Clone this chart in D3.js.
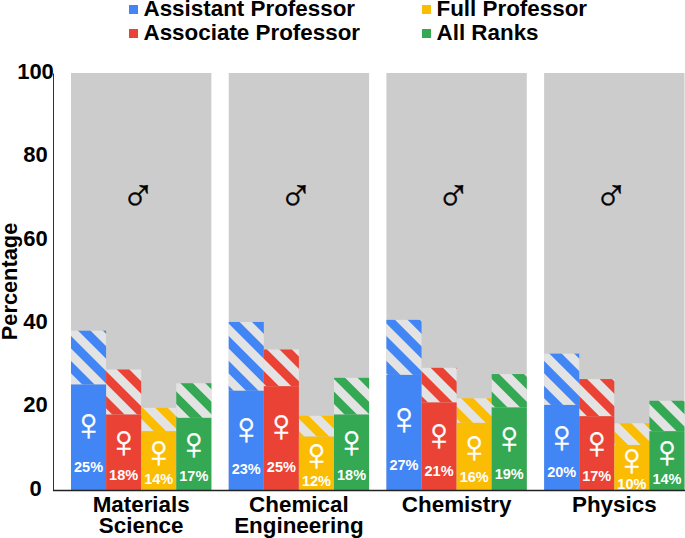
<!DOCTYPE html>
<html>
<head>
<meta charset="utf-8">
<script src="https://cdn.jsdelivr.net/npm/d3@7"></script>
<style>
html, body { margin: 0; padding: 0; background: #fff; }
svg { display: block; }
text { font-family: "Liberation Sans", Arial, sans-serif; }
</style>
</head>
<body>
<svg id="svg" width="685" height="538"></svg>
<script>
var departments = ["Materials Science", "Chemical Engineering", "Chemistry", "Physics"];
var ranks = ["Assistant Professor", "Associate Professor", "Full Professor", "All Ranks"];
var rankColors = ["#4285f4", "#ea4335", "#fbbc04", "#34a853"];
var yTicks = [0, 20, 40, 60, 80, 100];

//solid part of the bar, one row per department
var solidValues = [
    [25.3, 18.1, 14.1, 17.3],
    [23.8, 24.9, 12.8, 18.1],
    [27.6, 21.0, 16.1, 19.8],
    [20.4, 17.7, 10.8, 14.1]
];
//top of the striped part
var stripedValues = [
    [38.2, 28.9, 19.7, 25.6],
    [40.3, 33.7, 17.8, 26.9],
    [40.8, 29.3, 22.0, 27.8],
    [32.7, 26.6, 16.0, 21.4]
];
//printed labels
var percentLabels = [
    [25, 18, 14, 17],
    [23, 25, 12, 18],
    [27, 21, 16, 19],
    [20, 17, 10, 14]
];

var svg = d3.select("#svg");

var yScale = d3.scaleLinear().domain([0, 100]).range([490, 73]);

var xScale = d3.scaleBand()
    .domain(departments)
    .range([71, 684.5])
    .paddingInner(0.11);

var rankScale = d3.scaleBand()
    .domain(ranks)
    .range([0, xScale.bandwidth()]);

//stripe patterns
var defs = svg.append("defs");
ranks.forEach(function(r, i) {
    var p = defs.append("pattern")
        .attr("id", "stripe" + i)
        .attr("patternUnits", "userSpaceOnUse")
        .attr("width", 17.6)
        .attr("height", 17.6)
        .attr("patternTransform", "rotate(45)");
    p.append("rect").attr("width", 17.6).attr("height", 17.6).attr("fill", rankColors[i]);
    p.append("rect").attr("width", 17.6).attr("height", 8.8).attr("fill", "#e3e3e3");
});

//grey background of each department
svg.append("g").selectAll("rect").data(departments).enter()
    .append("rect")
    .attr("x", function(d) { return xScale(d); })
    .attr("y", yScale(100))
    .attr("width", xScale.bandwidth())
    .attr("height", yScale(0) - yScale(100))
    .attr("fill", "#cccccc");

departments.forEach(function(dep, k) {
    var grp = svg.append("g").attr("transform", "translate(" + xScale(dep) + ",0)");

    grp.selectAll("rect.top").data(ranks).enter()
        .append("rect")
        .attr("class", "top")
        .attr("x", function(d) { return rankScale(d); })
        .attr("y", function(d, i) { return yScale(stripedValues[k][i]); })
        .attr("width", rankScale.bandwidth())
        .attr("height", function(d, i) { return yScale(solidValues[k][i]) - yScale(stripedValues[k][i]); })
        .attr("fill", function(d, i) { return "url(#stripe" + i + ")"; });

    grp.selectAll("rect.solid").data(ranks).enter()
        .append("rect")
        .attr("class", "solid")
        .attr("x", function(d) { return rankScale(d); })
        .attr("y", function(d, i) { return yScale(solidValues[k][i]); })
        .attr("width", rankScale.bandwidth())
        .attr("height", function(d, i) { return yScale(0) - yScale(solidValues[k][i]); })
        .attr("fill", function(d, i) { return rankColors[i]; });

    //female symbol
    grp.selectAll("text.female").data(ranks).enter()
        .append("text")
        .attr("class", "female")
        .attr("x", function(d) { return rankScale(d) + rankScale.bandwidth() / 2; })
        .attr("y", function(d, i) { return yScale(solidValues[k][i] * 0.58 + 0.6); })
        .attr("dy", "0.295em")
        .attr("text-anchor", "middle")
        .attr("font-size", 46)
        .attr("fill", "#fff")
        .attr("stroke", "#fff")
        .attr("stroke-width", 0.4)
        .text("\u2640");

    //percent
    grp.selectAll("text.pct").data(ranks).enter()
        .append("text")
        .attr("class", "pct")
        .attr("x", function(d) { return rankScale(d) + rankScale.bandwidth() / 2; })
        .attr("y", function(d, i) { return yScale(percentLabels[k][i] * 0.27 - 0.8); })
        .attr("dy", "0.46em")
        .attr("text-anchor", "middle")
        .attr("font-size", 14.5)
        .attr("font-weight", "bold")
        .attr("fill", "#fff")
        .text(function(d, i) { return percentLabels[k][i] + "%"; });

    //male symbol
    grp.append("text")
        .attr("x", xScale.bandwidth() / 2 - 3)
        .attr("y", 194.7)
        .attr("dy", "0.36em")
        .attr("text-anchor", "middle")
        .attr("font-size", 46)
        .attr("fill", "#000")
        .attr("stroke", "#000")
        .attr("stroke-width", 0.4)
        .text("\u2642");
});

//yAxis
var yAxis = svg.append("g")
    .attr("transform", "translate(53,0)")
    .call(d3.axisLeft(yScale).tickValues(yTicks).tickSize(0));
yAxis.select(".domain")
    .attr("stroke", "#333")
    .attr("stroke-width", 1);
yAxis.selectAll("text")
    .attr("x", -17.5)
    .attr("dy", 5.2)
    .attr("text-anchor", "middle")
    .attr("font-size", 22)
    .attr("font-weight", "bold")
    .attr("fill", "#000");

//xAxis
var xAxis = svg.append("g")
    .attr("transform", "translate(0," + yScale(0) + ")")
    .call(d3.axisBottom(xScale).tickSize(0).tickFormat(""));
xAxis.select(".domain")
    .attr("d", "M53,0.5H685")
    .attr("stroke", "#222")
    .attr("stroke-width", 1.5);

//two line department names
var catLabels = svg.append("g").selectAll("text").data(departments).enter()
    .append("text")
    .attr("x", function(d) { return xScale(d) + xScale.bandwidth() / 2; })
    .attr("y", 512)
    .attr("text-anchor", "middle")
    .attr("font-size", 22.4)
    .attr("font-weight", "bold")
    .attr("fill", "#000");
catLabels.each(function(d) {
    var words = d.split(" ");
    var t = d3.select(this);
    words.forEach(function(w, i) {
        t.append("tspan")
            .attr("x", xScale(d) + xScale.bandwidth() / 2)
            .attr("dy", i == 0 ? 0 : 20.5)
            .text(w);
    });
});

//y title
svg.append("text")
    .attr("transform", "translate(17,281.5) rotate(-90)")
    .attr("text-anchor", "middle")
    .attr("font-size", 21.8)
    .attr("font-weight", "bold")
    .attr("fill", "#000")
    .text("Percentage");

//legend
var legendX = [129, 422, 129, 422];
var legendRow = [0, 0, 1, 1];
var legendOrder = [0, 2, 1, 3];
var legend = svg.append("g");
legendOrder.forEach(function(r, i) {
    legend.append("rect")
        .attr("x", legendX[i])
        .attr("y", 5 + legendRow[i] * 24)
        .attr("width", 9)
        .attr("height", 9)
        .attr("fill", rankColors[r]);
    legend.append("text")
        .attr("x", legendX[i] + 14.5)
        .attr("y", 16 + legendRow[i] * 24)
        .attr("font-size", 22.4)
        .attr("font-weight", "bold")
        .attr("fill", "#000")
        .text(ranks[r]);
});
</script>
</body>
</html>
